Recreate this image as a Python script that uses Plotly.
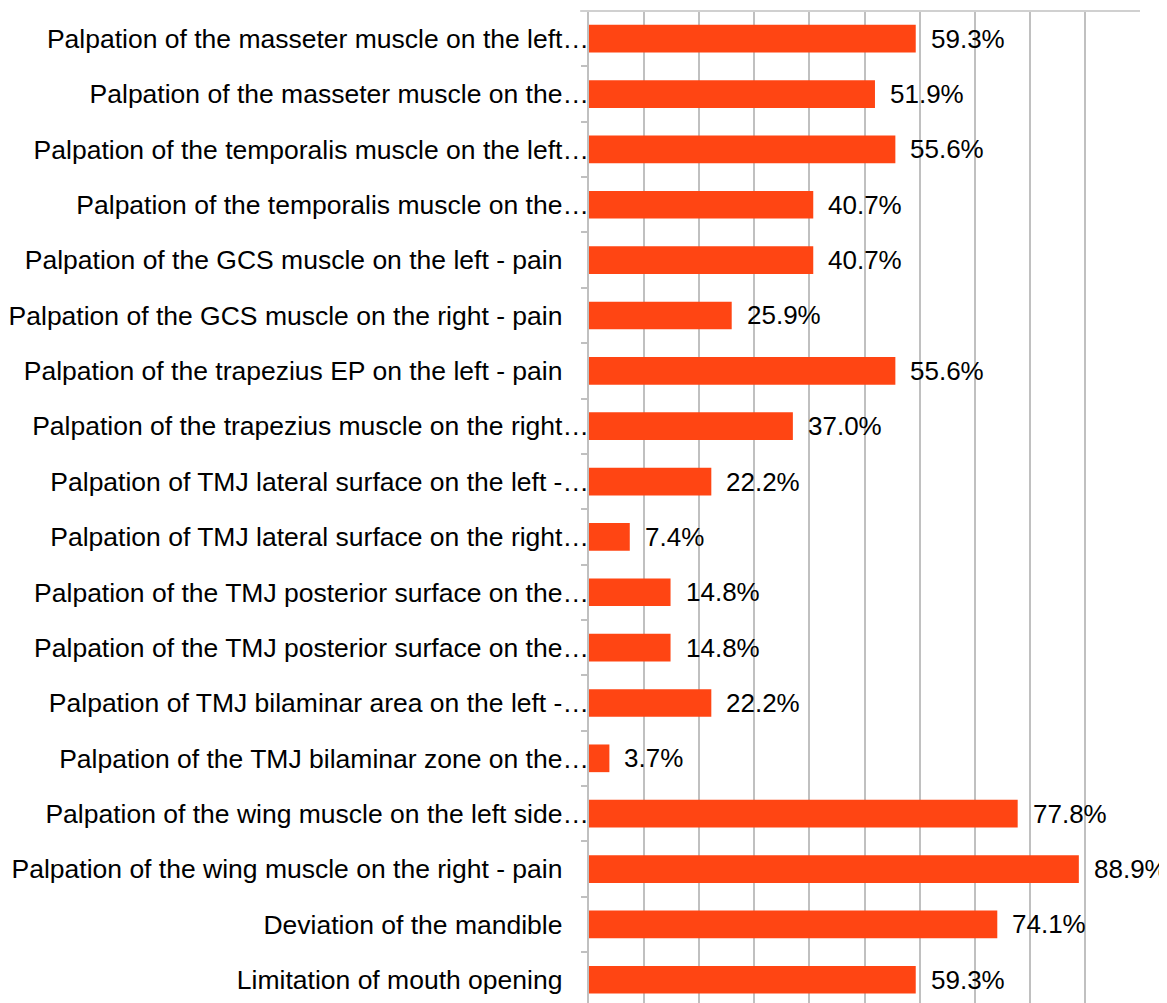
import plotly.graph_objects as go

categories = [
    "Palpation of the masseter muscle on the left…",
    "Palpation of the masseter muscle on the…",
    "Palpation of the temporalis muscle on the left…",
    "Palpation of the temporalis muscle on the…",
    "Palpation of the GCS muscle on the left - pain\u2002\u2002",
    "Palpation of the GCS muscle on the right - pain\u2002\u2002",
    "Palpation of the trapezius EP on the left - pain\u2002\u2002",
    "Palpation of the trapezius muscle on the right…",
    "Palpation of TMJ lateral surface on the left -…",
    "Palpation of TMJ lateral surface on the right…",
    "Palpation of the TMJ posterior surface on the…",
    "Palpation of the TMJ posterior surface on the…\u200b",
    "Palpation of TMJ bilaminar area on the left -…",
    "Palpation of the TMJ bilaminar zone on the…",
    "Palpation of the wing muscle on the left side…",
    "Palpation of the wing muscle on the right - pain\u2002\u2002",
    "Deviation of the mandible\u2002\u2002",
    "Limitation of mouth opening\u2002\u2002",
]
values = [59.3, 51.9, 55.6, 40.7, 40.7, 25.9, 55.6, 37.0, 22.2, 7.4,
          14.8, 14.8, 22.2, 3.7, 77.8, 88.9, 74.1, 59.3]
value_labels = [f"{v:.1f}%" for v in values]

FONT = "Liberation Sans, Arial, sans-serif"
GRID = "#C0C0C0"

fig = go.Figure(go.Bar(
    x=values, y=categories, orientation="h",
    marker=dict(color="#FF4513", line=dict(width=0)),
    width=0.5,
    hoverinfo="x+y",
))

for v, c, t in zip(values, categories, value_labels):
    fig.add_annotation(x=v, y=c, text=t, showarrow=False, xanchor="left",
                       xshift=13, font=dict(family=FONT, size=26, color="#000000"))

fig.add_shape(type="line", xref="paper", yref="paper", x0=-0.016, x1=1,
              y0=1, y1=1, line=dict(color="#D0D0D0", width=2), layer="above")

fig.update_layout(
    width=1159, height=995,
    margin=dict(l=581, r=27, t=3, b=0, autoexpand=False),
    plot_bgcolor="#FFFFFF", paper_bgcolor="#FFFFFF",
    showlegend=False,
    font=dict(family=FONT, size=26, color="#000000"),
    bargap=0.5,
)
fig.update_xaxes(
    range=[0, 100], dtick=10, showticklabels=False,
    showgrid=True, gridcolor=GRID, gridwidth=1.5,
    zeroline=False, showline=False, automargin=False,
)
fig.update_yaxes(
    type="category", categoryorder="array", categoryarray=categories,
    range=[17.42, -0.5], automargin=False,
    showline=True, linecolor=GRID, linewidth=1.5,
    ticks="outside", tickson="boundaries", ticklen=6, tickcolor=GRID, tickwidth=1.5,
    ticklabelstandoff=-7,
    tickfont=dict(family=FONT, size=26.5, color="#000000"),
    showgrid=False, zeroline=False,
)

fig.write_html("out.html")
